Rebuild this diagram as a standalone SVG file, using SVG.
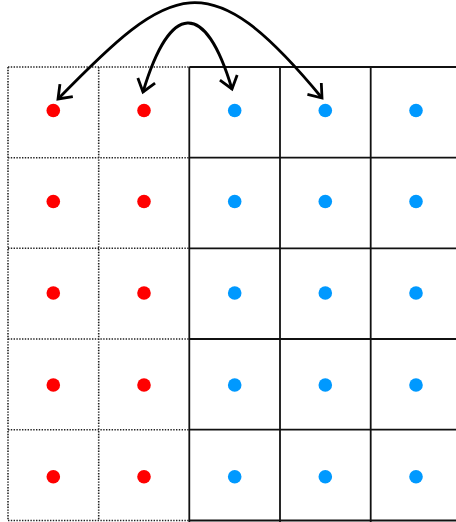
<svg xmlns="http://www.w3.org/2000/svg" width="456" height="522" viewBox="0 0 456 522">
<style>
.solid{stroke:#111;stroke-width:1.8;fill:none}
.dot{stroke:#222;stroke-width:1.6;stroke-dasharray:1.4 1.4;fill:none}
.r{fill:#ff0000}
.b{fill:#0099ff}
.arc{stroke:#000;stroke-width:2.8;fill:none;marker-start:url(#ah);marker-end:url(#ah)}
</style>
<defs>
<marker id="ah" markerUnits="userSpaceOnUse" viewBox="-16 -12 20 24" markerWidth="20" markerHeight="24" refX="0" refY="0" orient="auto-start-reverse">
<path d="M -12 -9 L 0 0 L -12 9" stroke="#000" stroke-width="2.8" fill="none" stroke-linejoin="miter"/>
</marker>
</defs>
<rect width="456" height="522" fill="#fff"/>
<g id="grid">
<path class="dot" d="M8 67V520.5M98.7 67V520.5M8 67H189.3M8 157.7H189.3M8 248.3H189.3M8 339H189.3M8 429.7H189.3M8 520.5H189.3"/>
<path class="solid" d="M189.3 67V522M280 67V522M370.7 67V522M189.3 67H456M189.3 157.7H456M189.3 248.3H456M189.3 339H456M189.3 429.7H456M189.3 520.5H456"/>
</g>
<g id="dots">
<circle class="r" cx="53.3" cy="110.5" r="6.8"/><circle class="r" cx="144" cy="110.5" r="6.8"/><circle class="b" cx="234.7" cy="110.5" r="6.8"/><circle class="b" cx="325.3" cy="110.5" r="6.8"/><circle class="b" cx="416" cy="110.5" r="6.8"/>
<circle class="r" cx="53.3" cy="201.5" r="6.8"/><circle class="r" cx="144" cy="201.5" r="6.8"/><circle class="b" cx="234.7" cy="201.5" r="6.8"/><circle class="b" cx="325.3" cy="201.5" r="6.8"/><circle class="b" cx="416" cy="201.5" r="6.8"/>
<circle class="r" cx="53.3" cy="293" r="6.8"/><circle class="r" cx="144" cy="293" r="6.8"/><circle class="b" cx="234.7" cy="293" r="6.8"/><circle class="b" cx="325.3" cy="293" r="6.8"/><circle class="b" cx="416" cy="293" r="6.8"/>
<circle class="r" cx="53.3" cy="385" r="6.8"/><circle class="r" cx="144" cy="385" r="6.8"/><circle class="b" cx="234.7" cy="385" r="6.8"/><circle class="b" cx="325.3" cy="385" r="6.8"/><circle class="b" cx="416" cy="385" r="6.8"/>
<circle class="r" cx="53.3" cy="476.7" r="6.8"/><circle class="r" cx="144" cy="476.7" r="6.8"/><circle class="b" cx="234.7" cy="476.7" r="6.8"/><circle class="b" cx="325.3" cy="476.7" r="6.8"/><circle class="b" cx="416" cy="476.7" r="6.8"/>
</g>
<g id="connectors">
<path class="arc" d="M58 99 C172 -18, 208 -40, 322 98"/>
<path class="arc" d="M143 92 C170 2, 205 -1, 232 89"/>
</g>
</svg>
